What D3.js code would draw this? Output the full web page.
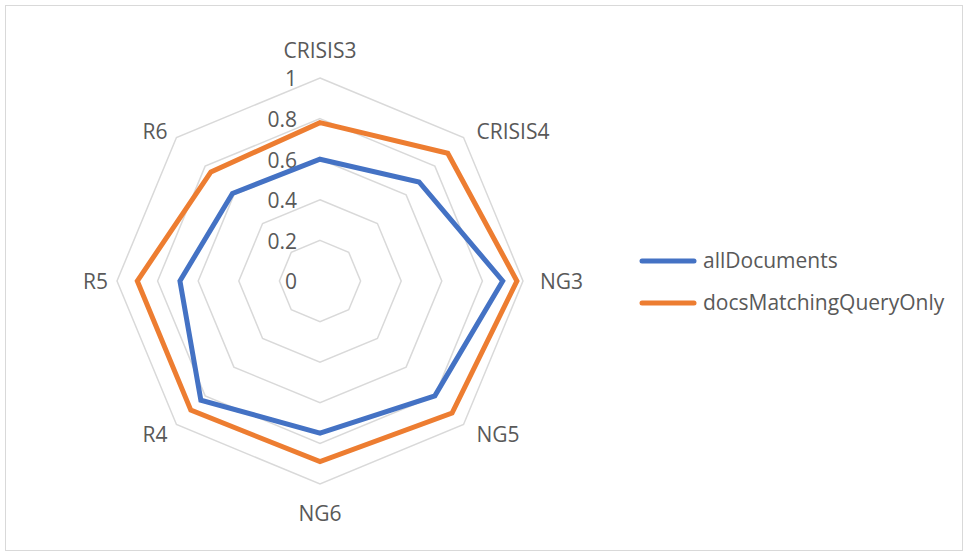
<!DOCTYPE html>
<html>
<head>
<meta charset="utf-8">
<script src="https://cdn.jsdelivr.net/npm/d3@7"></script>
<style>
  html, body { margin: 0; padding: 0; background: #fff; }
  svg { display: block; }
  text { font-family: "Open Sans", "Liberation Sans", sans-serif; fill: #595959; }
</style>
</head>
<body>
<svg id="chart" width="968" height="556"></svg>
<script>
// Axes of the radar, clockwise from the top
const categories = ["CRISIS3", "CRISIS4", "NG3", "NG5", "NG6", "R4", "R5", "R6"];
const seriesNames = ["allDocuments", "docsMatchingQueryOnly"];
const allDocuments = [0.60, 0.69, 0.90, 0.80, 0.75, 0.83, 0.69, 0.61];
const docsMatchingQueryOnly = [0.78, 0.89, 0.97, 0.92, 0.89, 0.90, 0.90, 0.76];
const tickValues = [0, 0.2, 0.4, 0.6, 0.8, 1];
const tickLabels = ["0", "0.2", "0.4", "0.6", "0.8", "1"];
const colors = ["#4472C4", "#ED7D31"];

const svg = d3.select("#chart");
const W = 968, H = 556;
const fontSize = "21px";

// outer chart frame
svg.append("rect")
  .attr("x", 5.5).attr("y", 5.5)
  .attr("width", W - 11).attr("height", H - 11)
  .attr("fill", "#fff").attr("stroke", "#d9d9d9").attr("stroke-width", 1);

const cx = 320, cy = 281, R = 203;
const r = d3.scaleLinear().domain([0, 1]).range([0, R]);
const angle = d3.scalePoint().domain(categories).range([0, 2 * Math.PI * (categories.length - 1) / categories.length]);

const g = svg.append("g").attr("transform", `translate(${cx},${cy})`);

const radial = d3.lineRadial()
  .angle(d => angle(d.cat))
  .radius(d => r(d.v))
  .curve(d3.curveLinearClosed);

// gridline polygons
g.selectAll("path.grid")
  .data(tickValues)
  .join("path")
  .attr("class", "grid")
  .attr("d", t => radial(categories.map(c => ({ cat: c, v: t }))))
  .attr("fill", "none")
  .attr("stroke", "#d9d9d9")
  .attr("stroke-width", 1.5);

// value labels along the top axis
g.selectAll("text.tick")
  .data(tickValues)
  .join("text")
  .attr("class", "tick")
  .attr("x", -23)
  .attr("y", t => -r(t) + 1)
  .attr("dy", "0.35em")
  .attr("text-anchor", "end")
  .style("font-size", fontSize)
  .text((t, i) => tickLabels[i]);

// category labels, placed just outside the outer ring
g.selectAll("text.cat")
  .data(categories)
  .join("text")
  .attr("class", "cat")
  .each(function (c) {
    const a = angle(c);
    const sx = Math.sin(a), sy = -Math.cos(a);
    const vx = r(1) * sx, vy = r(1) * sy;
    let anchor = "middle", dx = 0, dy = 0;
    if (sx > 0.9) { anchor = "start"; dx = 17; dy = 1; }
    else if (sx < -0.9) { anchor = "end"; dx = -9; dy = 1; }
    else if (sx > 0.1) { anchor = "start"; dx = 13; dy = sy < 0 ? -6 : 10; }
    else if (sx < -0.1) { anchor = "end"; dx = -9; dy = sy < 0 ? -6 : 10; }
    else { dy = sy < 0 ? -27 : 30; }
    d3.select(this)
      .attr("x", vx + dx)
      .attr("y", vy + dy)
      .attr("dy", "0.35em")
      .attr("text-anchor", anchor);
  })
  .style("font-size", fontSize)
  .text(c => c);

// series polygons
const seriesData = [allDocuments, docsMatchingQueryOnly];
g.selectAll("path.series")
  .data(seriesData)
  .join("path")
  .attr("class", "series")
  .attr("d", vals => radial(vals.map((v, i) => ({ cat: categories[i], v }))))
  .attr("fill", "none")
  .attr("stroke", (d, i) => colors[i])
  .attr("stroke-width", 5)
  .attr("stroke-linejoin", "miter");

// legend
const legend = svg.append("g").attr("transform", "translate(640,261)");
const item = legend.selectAll("g")
  .data(seriesNames)
  .join("g")
  .attr("transform", (d, i) => `translate(0,${i * 42})`);
item.append("line")
  .attr("x1", 2).attr("x2", 54)
  .attr("stroke", (d, i) => colors[i])
  .attr("stroke-width", 5)
  .attr("stroke-linecap", "round");
item.append("text")
  .attr("x", 63)
  .attr("dy", "0.35em")
  .style("font-size", fontSize)
  .text(d => d);
</script>
</body>
</html>
